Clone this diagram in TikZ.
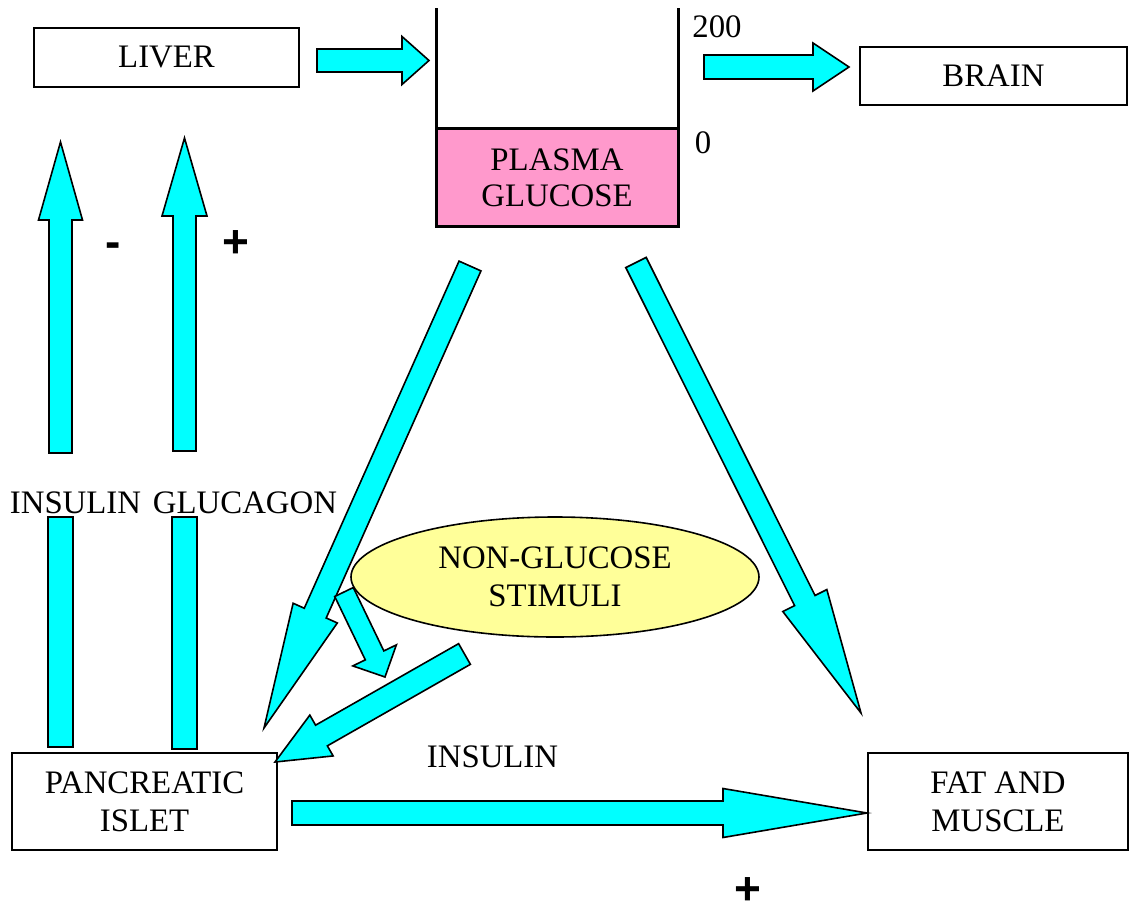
\documentclass[tikz,border=0pt]{standalone}
\usepackage{fontspec}
\setmainfont{Liberation Serif}
\newfontfamily\signfont{Liberation Sans}
\usetikzlibrary{calc,shapes.geometric}

\definecolor{aqua}{RGB}{0,255,255}
\definecolor{plasmapink}{RGB}{255,153,204}
\definecolor{paleyellow}{RGB}{255,255,153}

\newcommand{\BlockArrow}[5]{%
  \coordinate (hb) at ($(#2)!#5!(#1)$);
  \draw[blockarrow] ($(#1)!#3!90:(#2)$) -- ($(hb)!#3!90:(#2)$) -- ($(hb)!#4!90:(#2)$)
    -- (#2) -- ($(hb)!#4!-90:(#2)$) -- ($(hb)!#3!-90:(#2)$) -- ($(#1)!#3!-90:(#2)$) -- cycle;}

\begin{document}
\begin{tikzpicture}[x=0.5pt,y=-0.5pt,
  box/.style={draw,line width=0.8pt,inner sep=0pt,outer sep=0pt,align=center,
    font=\fontsize{16.4}{19}\selectfont},
  label/.style={inner sep=0pt,font=\fontsize{16.4}{19}\selectfont},
  sign/.style={inner sep=0pt,font=\signfont\bfseries\fontsize{23}{26}\selectfont},
  blockarrow/.style={draw,fill=aqua,line width=0.8pt,line join=miter}]
\useasboundingbox (0,0) rectangle (1131,911);

\node[box,minimum width=132.5pt,minimum height=29.5pt] (liver) at (166.5,57.5) {LIVER};
\node[box,minimum width=133.5pt,minimum height=29pt] (brain) at (993.5,76) {BRAIN};
\node[box,minimum width=132.5pt,minimum height=48.5pt] (islet) at (144.5,801.5) {PANCREATIC\\ISLET};
\node[box,minimum width=130pt,minimum height=48.5pt] (fat) at (998,801.5) {FAT AND\\MUSCLE};
\node[box,fill=plasmapink,line width=1.5pt,minimum width=121pt,minimum height=49pt,
  font=\fontsize{16.4}{18}\selectfont] (plasma) at (557,177.5) {PLASMA\\GLUCOSE};
\node[box,draw,fill=paleyellow,ellipse,minimum width=204pt,minimum height=60pt] (stimuli) at (555,577) {NON-GLUCOSE\\STIMULI};

\coordinate (tankl) at (436,8);
\coordinate (tankr) at (678,8);
\draw[line width=1.5pt] (tankl) -- (plasma.north west);
\draw[line width=1.5pt] (tankr) -- (plasma.north east);

\node[label] (high) at (717,27) {200};
\node[label] (low) at (703,143) {0};
\node[label] (insulin) at (75.5,503) {INSULIN};
\node[label] (glucagon) at (245,503) {GLUCAGON};
\node[label] (insulin2) at (492.5,757) {INSULIN};

\node[sign,anchor=base] (minus) at (113,257) {-};
\node[sign,anchor=base] (plus) at (236,257) {+};
\node[sign,anchor=base] (plus2) at (748,904) {+};

\coordinate (livout) at (317,60.5);
\coordinate (glcin) at (429,60.5);
\coordinate (glcout) at (704,67);
\coordinate (brainin) at (849,67);
\coordinate (insbot) at (60.5,453);
\coordinate (instop) at (60.5,142);
\coordinate (glgbot) at (184.5,451);
\coordinate (glgtop) at (184.5,138);
\coordinate (lefttail) at (470,266);
\coordinate (lefttip) at (264,728);
\coordinate (righttail) at (636,262.5);
\coordinate (righttip) at (861,713);
\coordinate (stimtail) at (344,592);
\coordinate (stimtip) at (385,677);
\coordinate (stimtail2) at (464.5,654);
\coordinate (stimtip2) at (275,762);
\coordinate (isletout) at (292,813);
\coordinate (fatin) at (867,813);

\draw[blockarrow] (48,517) rectangle (73,747);
\draw[blockarrow] (172,517) rectangle (197,749);

\BlockArrow{livout}{glcin}{5.75pt}{12pt}{13.5pt}
\BlockArrow{glcout}{brainin}{6pt}{12pt}{18pt}
\BlockArrow{insbot}{instop}{5.75pt}{11pt}{39pt}
\BlockArrow{glgbot}{glgtop}{5.75pt}{11.25pt}{39pt}
\BlockArrow{lefttail}{lefttip}{6pt}{12.1pt}{62.9pt}
\BlockArrow{righttail}{righttip}{5.7pt}{12.3pt}{62.85pt}
\BlockArrow{stimtail}{stimtip}{5.15pt}{12.1pt}{12pt}
\BlockArrow{stimtail2}{stimtip2}{5.95pt}{11.75pt}{26.75pt}
\BlockArrow{isletout}{fatin}{6pt}{12.25pt}{72pt}
\end{tikzpicture}
\end{document}
